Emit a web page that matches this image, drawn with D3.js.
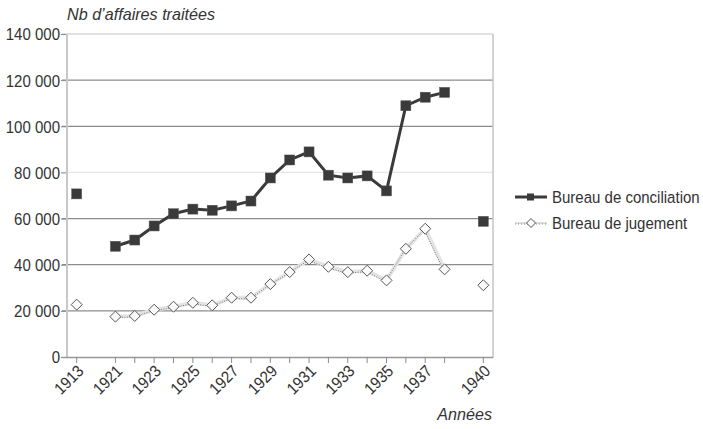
<html>
<head>
<meta charset="utf-8">
<script src="https://d3js.org/d3.v7.min.js"></script>
<style>
  body { margin: 0; background: #fff; }
  text { font-family: "Liberation Sans", Arial, sans-serif; fill: #333; }
</style>
</head>
<body>
<svg width="703" height="429"></svg>
<script>
// categories (one empty slot for 1914-1920, and 1939 has no data)
var categories = ["1913", "1914-1920", "1921", "1922", "1923", "1924", "1925", "1926", "1927", "1928",
  "1929", "1930", "1931", "1932", "1933", "1934", "1935", "1936", "1937", "1938", "1939", "1940"];
var tickLabels = ["1913", "1921", "1923", "1925", "1927", "1929", "1931", "1933", "1935", "1937", "1940"];
var yTicks = [0, 20000, 40000, 60000, 80000, 100000, 120000, 140000];

var conciliation = [70700, null, 48000, 50700, 56800, 62100, 64100, 63600, 65500, 67600,
  77600, 85400, 88900, 78800, 77600, 78500, 72000, 108900, 112600, 114700, null, 58800];
var jugement = [22700, null, 17500, 17800, 20500, 21800, 23500, 22400, 25700, 25700,
  31600, 36800, 42300, 39100, 36800, 37400, 33200, 46900, 55600, 38000, null, 31100];

function draw(){
  var svg = d3.select("svg");
  var pLeft = 67, pRight = 493, pTop = 34, pBottom = 357;
  var fs = "16.5px", sq = 0.91;   // text looks a bit condensed in the original

  var x = d3.scaleBand().domain(categories).range([pLeft, pRight]);
  var cx = function(c){ return x(c) + x.bandwidth() / 2; };
  var y = d3.scaleLinear().domain([0, 140000]).range([pBottom, pTop]);

  // gridlines
  svg.append("g").selectAll("line").data(yTicks.slice(1)).enter().append("line")
    .attr("x1", pLeft - 5).attr("x2", pRight)
    .attr("y1", function(d){ return y(d); }).attr("y2", function(d){ return y(d); })
    .style("stroke", function(d){ return d == 80000 ? "#e6e6e6" : (d == 140000 ? "#c4c4c4" : "#8c8c8c"); })
    .style("stroke-width", 1.2);

  // frame
  svg.append("line").attr("x1", pRight).attr("x2", pRight).attr("y1", pTop).attr("y2", pBottom + 1)
    .style("stroke", "#c4c4c4").style("stroke-width", 1.5);
  svg.append("line").attr("x1", pLeft).attr("x2", pLeft).attr("y1", pTop).attr("y2", pBottom + 1)
    .style("stroke", "#c8c8c8").style("stroke-width", 2);

  // y axis labels
  var yAxis = svg.append("g").attr("transform", "translate(" + (pLeft - 1) + ",0)")
    .call(d3.axisLeft(y).tickValues(yTicks).tickSize(5)
      .tickFormat(function(d){ return d3.format(",")(d).replace(/,/g, " "); }));
  yAxis.select(".domain").remove();
  yAxis.selectAll("line").style("stroke", "#8c8c8c");
  yAxis.selectAll("text").style("font-size", fs).style("font-family", "Liberation Sans")
    .attr("x", null).attr("dy", "0.36em").attr("fill", "#333")
    .attr("transform", "translate(-6,0) scale(" + sq + ",1)");

  // x axis
  var xAxis = svg.append("g").attr("transform", "translate(0," + pBottom + ")")
    .call(d3.axisBottom(x).tickValues(categories.filter(function(c){ return c != "1914-1920" && c != "1939"; }))
      .tickSize(6).tickFormat(function(d){ return tickLabels.indexOf(d) >= 0 ? d : ""; }));
  xAxis.select(".domain").attr("d", "M" + (pLeft - 5) + ",0.5H" + pRight).style("stroke", "#999").style("stroke-width", 1.5);
  xAxis.selectAll("line").style("stroke", "#8c8c8c");
  xAxis.selectAll("text").style("font-size", fs).style("font-family", "Liberation Sans").style("text-anchor", "end")
    .attr("y", 0).attr("dy", 0).attr("fill", "#333")
    .attr("transform", "translate(8,15) rotate(-45) scale(" + sq + ",1)");

  // series lines
  var line = function(vals){
    return d3.line().defined(function(d, i){ return vals[i] != null; })
      .x(function(d){ return cx(d); }).y(function(d, i){ return y(vals[i]); })(categories);
  };

  svg.append("path").attr("d", line(jugement)).style("fill", "none")
    .style("stroke", "#e4e4e4").style("stroke-width", 4);
  svg.append("path").attr("d", line(jugement)).attr("transform", "translate(-1,1)").style("fill", "none")
    .style("stroke", "#777").style("stroke-width", 1).style("stroke-dasharray", "1,1.5");

  svg.append("path").attr("d", line(conciliation)).style("fill", "none")
    .style("stroke", "#3a3a3a").style("stroke-width", 3);

  // markers
  svg.append("g").selectAll("rect").data(categories.filter(function(c, i){ return conciliation[i] != null; }))
    .enter().append("rect")
    .attr("x", function(d){ return cx(d) - 5; })
    .attr("y", function(d){ return y(conciliation[categories.indexOf(d)]) - 5; })
    .attr("width", 10).attr("height", 10)
    .style("fill", "#3a3a3a").style("stroke", "#555").style("stroke-width", 0.5);

  var diamond = function(px, py, r){
    return "M" + px + "," + (py - r) + "L" + (px + r) + "," + py + "L" + px + "," + (py + r) + "L" + (px - r) + "," + py + "Z";
  };
  svg.append("g").selectAll("path").data(categories.filter(function(c, i){ return jugement[i] != null; }))
    .enter().append("path")
    .attr("d", function(d){ return diamond(cx(d), y(jugement[categories.indexOf(d)]), 5.5); })
    .style("fill", "#fafafa").style("stroke", "#555").style("stroke-width", 1);

  // titles
  svg.append("text").attr("transform", "translate(67,20) scale(0.95,1)").style("font-size", "17px").style("font-style", "italic")
    .text("Nb d\u2019affaires traitées");
  svg.append("text").attr("transform", "translate(492,420) scale(0.95,1)").style("font-size", "17px").style("font-style", "italic")
    .style("text-anchor", "end").text("Années");

  // legend
  var lg = svg.append("g");
  lg.append("line").attr("x1", 515).attr("x2", 547).attr("y1", 197).attr("y2", 197)
    .style("stroke", "#3a3a3a").style("stroke-width", 3);
  lg.append("rect").attr("x", 527).attr("y", 193.5).attr("width", 7).attr("height", 7).style("fill", "#3a3a3a");
  lg.append("line").attr("x1", 515).attr("x2", 547).attr("y1", 223).attr("y2", 223)
    .style("stroke", "#ddd").style("stroke-width", 2);
  lg.append("line").attr("x1", 515).attr("x2", 547).attr("y1", 224).attr("y2", 224)
    .style("stroke", "#888").style("stroke-width", 1).style("stroke-dasharray", "1,2");
  lg.append("path").attr("d", diamond(531, 223, 4.5)).style("fill", "#fafafa").style("stroke", "#555");
  lg.append("text").attr("transform", "translate(552,197) scale(" + sq + ",1)").attr("dy", "0.36em")
    .style("font-size", fs).text("Bureau de conciliation");
  lg.append("text").attr("transform", "translate(552,223) scale(" + sq + ",1)").attr("dy", "0.36em")
    .style("font-size", fs).text("Bureau de jugement");
}
draw();
</script>
</body>
</html>
